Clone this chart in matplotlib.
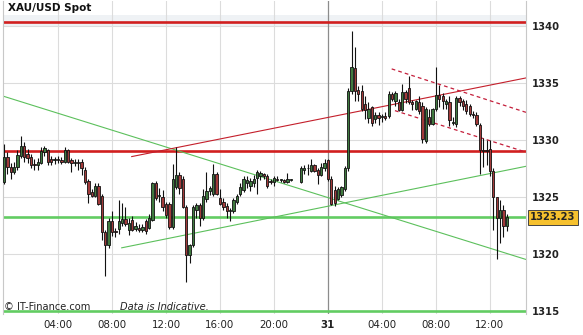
import numpy as np
import matplotlib
matplotlib.use("Agg")
import matplotlib.pyplot as plt
from matplotlib.transforms import blended_transform_factory

# ---------------- data ----------------
interval_hours = 0.25  # 15-minute candles starting 00:00 on day 30

opens = [1326.3, 1328.5, 1327.6, 1327.2, 1327.6, 1328.6, 1329.5, 1328.8, 1328.5, 1327.9,
         1327.8, 1328.0, 1328.9, 1329.1, 1328.3, 1328.2, 1328.3, 1328.2, 1328.1, 1329.1,
         1328.2, 1328.0, 1328.1, 1328.1, 1327.4, 1326.4, 1325.4, 1325.1, 1326.0, 1325.1,
         1321.9, 1320.8, 1322.9, 1322.0, 1322.2, 1322.7, 1323.1, 1322.1, 1323.0, 1322.2,
         1322.3, 1322.1, 1322.9, 1322.3, 1323.0, 1326.2, 1325.1, 1325.0, 1324.4, 1324.4,
         1322.4, 1325.9, 1326.9, 1326.6, 1324.1, 1319.9, 1320.8, 1323.9, 1324.3, 1323.2,
         1324.8, 1325.5, 1325.3, 1327.0, 1324.9, 1324.6, 1324.2, 1323.8, 1323.8, 1324.6,
         1325.3, 1325.6, 1326.2, 1326.0, 1326.2, 1326.7, 1326.8, 1327.0, 1326.8, 1326.4,
         1326.3, 1326.6, 1326.5, 1326.5, 1326.3, 1326.5, np.nan, np.nan, 1326.3, 1327.4,
         1327.5, 1327.3, 1327.8, 1327.4, 1326.9, 1327.5, 1328.2, 1326.6, 1325.6, 1324.8,
         1325.2, 1325.7, 1327.5, 1334.3, 1336.3, 1334.4, 1334.3, 1333.1, 1331.9, 1332.9,
         1331.8, 1332.2, 1332.0, 1332.1, 1332.1, 1334.0, 1333.4, 1333.3, 1332.6, 1334.2,
         1334.5, 1333.3, 1332.7, 1333.3, 1333.0, 1329.9, 1332.0, 1331.4, 1332.7, 1333.9,
         1333.8, 1333.1, 1333.3, 1331.5, 1331.4, 1333.7, 1333.4, 1333.1, 1333.0, 1332.3,
         1332.2, 1331.3, 1329.1, 1329.1, 1329.2, 1327.3, 1325.0, 1323.2, 1323.9, 1322.5]

highs = [1329.6, 1328.9, 1328.0, 1328.1, 1329.1, 1330.3, 1329.8, 1329.2, 1328.8, 1328.3,
         1328.4, 1329.4, 1329.5, 1329.2, 1328.6, 1328.5, 1328.6, 1328.5, 1329.4, 1329.2,
         1328.4, 1328.3, 1328.3, 1328.3, 1327.6, 1326.6, 1325.7, 1326.2, 1326.2, 1325.3,
         1322.1, 1323.2, 1323.8, 1322.3, 1324.7, 1324.5, 1324.1, 1323.2, 1323.3, 1322.8,
         1322.6, 1322.6, 1323.1, 1323.5, 1326.3, 1326.4, 1325.8, 1325.6, 1324.6, 1324.6,
         1327.9, 1329.4, 1327.2, 1326.8, 1324.3, 1320.9, 1324.3, 1324.5, 1324.5, 1325.7,
         1327.2, 1326.0, 1327.9, 1327.2, 1325.7, 1324.9, 1324.5, 1324.0, 1324.9, 1325.3,
         1326.2, 1326.8, 1326.8, 1326.7, 1326.9, 1327.4, 1327.3, 1327.1, 1327.0, 1326.6,
         1326.8, 1326.8, 1326.6, 1326.6, 1327.1, 1326.6, np.nan, np.nan, 1327.7, 1327.8,
         1327.9, 1328.3, 1327.9, 1327.5, 1328.0, 1328.3, 1328.3, 1326.8, 1326.0, 1325.9,
         1326.0, 1327.7, 1334.5, 1339.5, 1338.1, 1334.7, 1334.8, 1333.8, 1333.3, 1333.0,
         1332.4, 1332.4, 1332.3, 1332.4, 1334.3, 1334.2, 1334.3, 1333.6, 1334.9, 1334.4,
         1335.6, 1333.5, 1333.5, 1333.8, 1333.3, 1332.9, 1332.7, 1332.8, 1336.4, 1334.8,
         1334.1, 1333.6, 1333.8, 1332.0, 1333.8, 1333.8, 1333.6, 1333.5, 1333.1, 1332.5,
         1332.4, 1331.5, 1330.2, 1330.0, 1330.0, 1327.5, 1325.0, 1324.7, 1324.3, 1323.5]

lows = [1326.1, 1327.0, 1326.6, 1327.0, 1327.4, 1328.4, 1328.1, 1328.0, 1327.5, 1327.4,
        1327.4, 1327.9, 1328.6, 1327.8, 1327.8, 1327.9, 1328.0, 1327.9, 1328.0, 1328.0,
        1327.2, 1327.7, 1327.4, 1326.9, 1326.1, 1324.5, 1325.0, 1325.0, 1324.3, 1321.2,
        1318.1, 1320.5, 1321.6, 1321.5, 1321.8, 1322.5, 1322.5, 1321.7, 1322.0, 1322.0,
        1321.9, 1321.9, 1321.8, 1322.2, 1322.9, 1324.7, 1324.6, 1323.8, 1323.2, 1322.2,
        1322.2, 1325.7, 1325.3, 1324.0, 1317.6, 1319.2, 1320.6, 1323.2, 1322.5, 1323.0,
        1324.6, 1325.2, 1325.1, 1325.2, 1324.3, 1323.9, 1323.2, 1322.9, 1323.6, 1324.4,
        1325.1, 1325.4, 1325.8, 1325.5, 1325.9, 1325.3, 1326.5, 1326.6, 1325.8, 1326.1,
        1326.0, 1326.4, 1326.3, 1326.2, 1326.2, 1326.4, np.nan, np.nan, 1326.2, 1327.0,
        1326.9, 1327.2, 1327.2, 1326.1, 1326.8, 1327.3, 1326.4, 1324.3, 1324.2, 1324.7,
        1325.0, 1325.5, 1327.3, 1334.0, 1333.4, 1333.4, 1332.5, 1331.8, 1331.5, 1331.2,
        1331.5, 1331.3, 1331.6, 1331.7, 1331.9, 1333.4, 1333.0, 1332.5, 1332.5, 1333.2,
        1333.1, 1332.6, 1332.6, 1332.3, 1329.7, 1329.7, 1331.2, 1331.3, 1332.5, 1332.9,
        1332.7, 1332.7, 1331.2, 1331.3, 1331.1, 1333.0, 1332.6, 1332.3, 1332.1, 1331.9,
        1331.2, 1327.0, 1327.6, 1327.8, 1326.8, 1322.1, 1319.6, 1321.0, 1321.5, 1322.0]

closes = [1328.5, 1327.6, 1327.2, 1327.6, 1328.7, 1329.5, 1328.5, 1328.4, 1327.8, 1327.8,
          1328.1, 1329.0, 1329.3, 1328.1, 1328.1, 1328.3, 1328.2, 1328.1, 1329.1, 1328.1,
          1328.0, 1328.1, 1328.0, 1327.5, 1326.3, 1325.3, 1325.1, 1326.0, 1324.4, 1321.9,
          1320.8, 1322.9, 1321.9, 1321.9, 1322.9, 1323.1, 1322.6, 1322.7, 1322.1, 1322.5,
          1322.1, 1322.4, 1322.0, 1323.2, 1326.2, 1324.9, 1325.2, 1324.1, 1323.4, 1322.4,
          1326.6, 1326.9, 1325.8, 1324.1, 1319.9, 1320.8, 1324.1, 1324.3, 1323.2, 1325.1,
          1325.5, 1325.8, 1327.0, 1325.3, 1324.4, 1324.1, 1323.8, 1323.9, 1324.7, 1325.1,
          1325.9, 1326.6, 1326.5, 1326.4, 1326.6, 1327.2, 1327.1, 1326.8, 1326.0, 1326.3,
          1326.7, 1326.5, 1326.5, 1326.3, 1326.6, 1326.5, np.nan, np.nan, 1327.5, 1327.5,
          1327.5, 1327.8, 1327.3, 1326.9, 1327.6, 1328.0, 1326.6, 1324.4, 1324.5, 1325.7,
          1325.9, 1327.5, 1334.3, 1336.4, 1334.3, 1334.0, 1332.7, 1332.6, 1332.7, 1331.5,
          1332.2, 1331.9, 1332.1, 1331.9, 1334.0, 1333.6, 1334.1, 1332.6, 1334.2, 1333.6,
          1333.3, 1333.1, 1333.4, 1332.5, 1330.1, 1332.7, 1331.4, 1332.7, 1333.9, 1333.6,
          1333.4, 1333.4, 1331.7, 1331.6, 1333.7, 1333.3, 1333.0, 1332.5, 1332.3, 1332.2,
          1331.4, 1329.1, 1329.0, 1329.0, 1327.3, 1325.0, 1323.2, 1323.9, 1322.5, 1323.23]

tick_hours = [4, 8, 12, 16, 20, 24, 28, 32, 36]
tick_labels = ["04:00", "08:00", "12:00", "16:00", "20:00", "31", "04:00", "08:00", "12:00"]
price_ticks = [1315, 1320, 1325, 1330, 1335, 1340]
last_price = 1323.23
red_levels = [1340.35, 1329.07]
green_levels = [1323.23, 1315.0]
# trend lines: (hours, prices)
green_down_t, green_down_p = [-0.07, 38.67], [1333.83, 1319.54]
green_up_t, green_up_p = [8.72, 38.67], [1320.56, 1327.69]
red_up_t, red_up_p = [9.46, 38.67], [1328.54, 1335.42]
red_dash_hi_t, red_dash_hi_p = [28.72, 38.67], [1336.21, 1332.41]
red_dash_lo_t, red_dash_lo_p = [28.96, 38.67], [1332.56, 1328.93]

# ---------------- figure ----------------
W, H = 583, 335
fig = plt.figure(figsize=(W / 100, H / 100), dpi=100)
fig.patch.set_facecolor("white")
ax = fig.add_axes([3 / W, 1 - 314 / H, (526 - 3) / W, (314 - 1) / H])
ax.set_xlim(-0.074, 38.67)
ax.set_ylim(1314.77, 1342.15)

# light band behind the top resistance level
ax.axhspan(1339.85, 1340.95, color="#eff2f5", zorder=0, lw=0)

# grid
for p in [1320, 1325, 1330, 1335, 1340]:
    ax.axhline(p, color="#dcdcdc", lw=0.8, zorder=1)
for tt in tick_hours:
    col = "#8c8c8c" if tt == 24 else "#dcdcdc"
    ax.axvline(tt, color=col, lw=0.9 if tt == 24 else 0.8, zorder=1)

# horizontal levels
for p in red_levels:
    ax.axhline(p, color="#d11f1f", lw=1.9, zorder=2)
for p in green_levels:
    ax.axhline(p, color="#62cc62", lw=1.9, zorder=2)

# trend lines
ax.plot(green_down_t, green_down_p, color="#5cc05c", lw=0.8, zorder=2)
ax.plot(green_up_t, green_up_p, color="#5cc05c", lw=0.8, zorder=2)
ax.plot(red_up_t, red_up_p, color="#c41f2b", lw=0.8, zorder=2)
ax.plot(red_dash_hi_t, red_dash_hi_p, color="#c41f3b", lw=0.9, ls=(0, (3, 2.5)), zorder=2)
ax.plot(red_dash_lo_t, red_dash_lo_p, color="#c41f3b", lw=0.9, ls=(0, (3, 2.5)), zorder=2)

# candles
o = np.array(opens, float)
h = np.array(highs, float)
l = np.array(lows, float)
c = np.array(closes, float)
t = np.arange(len(o)) * interval_hours
valid = ~np.isnan(o)
ax.vlines(t[valid], l[valid], h[valid], color="#111111", lw=0.8, zorder=3)
up = valid & (c >= o)
dn = valid & (c < o)
bw = 0.17
minh = 0.08
for mask, col in [(up, "#3f7a3f"), (dn, "#a23a3a")]:
    bottoms = np.minimum(o[mask], c[mask])
    heights = np.maximum(np.abs(c[mask] - o[mask]), minh)
    ax.bar(t[mask], heights, bottom=bottoms, width=bw, color=col,
           edgecolor="#111111", linewidth=0.6, zorder=4)

# axes styling
for s in ["top", "bottom"]:
    ax.spines[s].set_visible(False)
for s in ["left", "right"]:
    ax.spines[s].set_color("#c8c8c8")
    ax.spines[s].set_linewidth(0.8)

ax.yaxis.tick_right()
ax.set_yticks(price_ticks)
ax.set_yticklabels([str(p) for p in price_ticks], fontsize=7.2, fontweight="bold", color="#222222")
ax.tick_params(axis="y", length=0, pad=4)
ax.set_xticks(tick_hours)
ax.set_xticklabels(tick_labels, fontsize=7.4, color="#222222")
for lab in ax.get_xticklabels():
    if lab.get_text() == "31":
        lab.set_fontweight("bold")
ax.tick_params(axis="x", length=0, pad=4)

# last price box
tr = blended_transform_factory(ax.transAxes, ax.transData)
ax.text(1.008, last_price, f"{last_price:.2f}", transform=tr, fontsize=7.2, fontweight="bold",
        color="#222222", va="center", ha="left",
        bbox=dict(boxstyle="square,pad=0.25", facecolor="#f6c12e", edgecolor="#444444", lw=0.7),
        zorder=6, clip_on=False)

# texts
fig.text(8 / W, 1 - 8 / H, "XAU/USD Spot", fontsize=7.5, fontweight="bold", color="#111111",
         va="center", ha="left")
fig.text(4 / W, 1 - 306.5 / H, "\u00a9 IT-Finance.com", fontsize=7.1, color="#222222",
         va="center", ha="left")
fig.text(120 / W, 1 - 306.5 / H, "Data is Indicative.", fontsize=7.1, style="italic",
         color="#222222", va="center", ha="left")

fig.savefig("out.png", dpi=100, facecolor="white")
